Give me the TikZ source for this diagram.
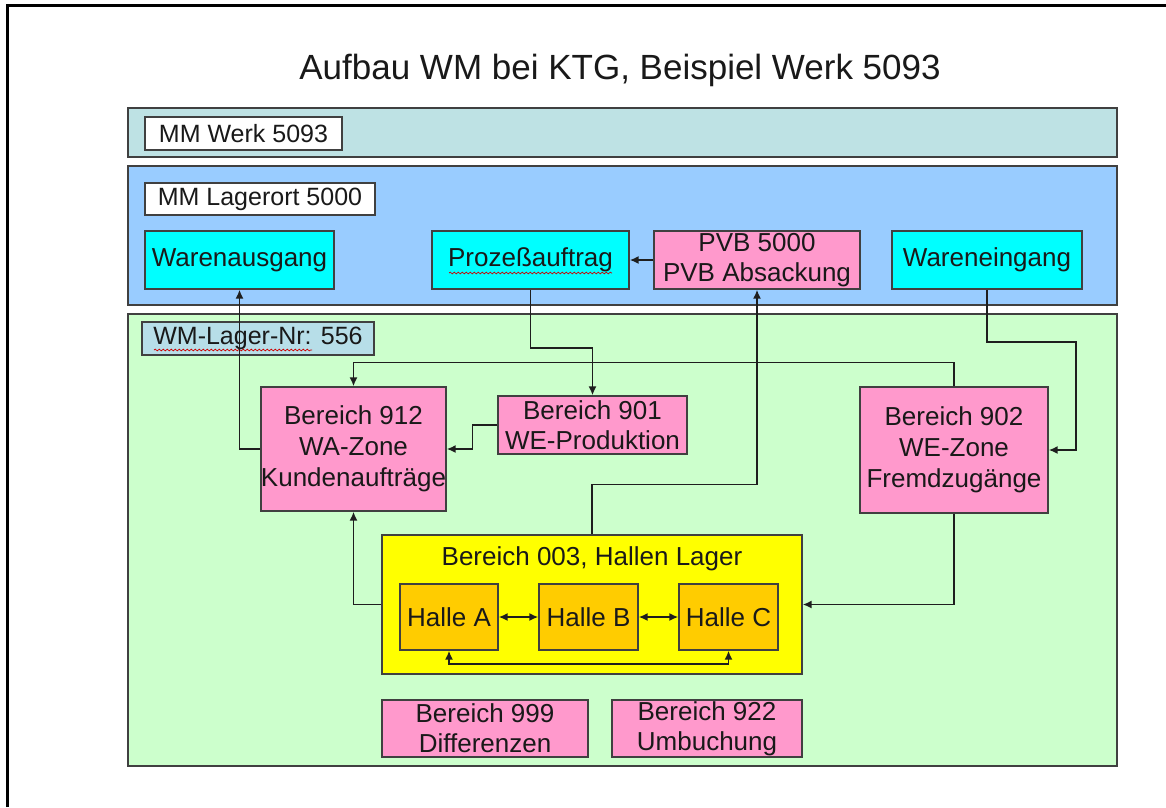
\documentclass[tikz,border=0pt]{standalone}
\usepackage{fontspec}
\setmainfont{Liberation Sans}
\usetikzlibrary{arrows.meta,decorations.pathmorphing}

\definecolor{werkfill}{RGB}{190,226,228}
\definecolor{lagerfill}{RGB}{153,204,255}
\definecolor{wmfill}{RGB}{204,255,204}
\definecolor{wmlabelfill}{RGB}{183,222,232}
\definecolor{cyanfill}{RGB}{0,255,255}
\definecolor{pinkfill}{RGB}{255,153,204}
\definecolor{yellowfill}{RGB}{255,255,0}
\definecolor{hallefill}{RGB}{255,204,0}
\definecolor{edgegray}{RGB}{64,64,64}
\definecolor{linegray}{RGB}{30,30,30}

\begin{document}
\begin{tikzpicture}[x=1pt,y=-1pt,
  every node/.style={inner sep=0pt, align=center, text=black!90,
    font=\fontsize{26}{31}\selectfont},
  band/.style={draw=edgegray, line width=1.6pt},
  label/.style={draw=edgegray, line width=1.3pt, font=\fontsize{25}{30}\selectfont},
  box/.style={draw=edgegray, line width=1.3pt},
  conn/.style={draw=linegray, line width=1.7pt, -{Latex[length=9pt,width=8pt]}},
  both/.style={draw=linegray, line width=1.7pt,
    {Latex[length=9pt,width=8pt]}-{Latex[length=9pt,width=8pt]}},
  squiggle/.style={draw=red!80!black, line width=0.7pt,
    decorate, decoration={snake, amplitude=0.9pt, segment length=4pt}}
]
\useasboundingbox (0,0) rectangle (1166,807);

% page frame (top and left edges)
\draw[line width=2.5pt] (7.5,807) -- (7.5,5.5) -- (1166,5.5);

% title
\node[font=\fontsize{35}{42}\selectfont] (title) at (620,70)
  {Aufbau WM bei KTG, Beispiel Werk 5093};

% three levels
\node[band, fill=werkfill, minimum width=989pt, minimum height=49pt] (werk) at (622.5,132.5) {};
\node[band, fill=lagerfill, minimum width=989pt, minimum height=139pt] (lager) at (622.5,235.5) {};
\node[band, fill=wmfill, minimum width=989pt, minimum height=452pt] (wm) at (622.5,540) {};

% level captions
\node[label, fill=white, minimum width=197pt, minimum height=33pt] (werklabel) at (243.5,133.5) {MM Werk 5093};
\node[label, fill=white, minimum width=230pt, minimum height=32pt] (lagerlabel) at (260,199) {MM Lagerort 5000};
\node[label, fill=wmlabelfill, minimum width=232pt, minimum height=33pt] (wmlabel) at (258,338.5) {WM-Lager-Nr: 556};

% storage location objects
\node[box, fill=cyanfill, minimum width=189pt, minimum height=58pt] (wa) at (239.5,260) {Warenausgang};
\node[box, fill=cyanfill, minimum width=197pt, minimum height=58pt] (pa) at (530.5,260) {Prozeßauftrag};
\node[box, fill=pinkfill, minimum width=206pt, minimum height=58pt] (pvb) at (757,260) {PVB 5000\\[-1pt]PVB Absackung};
\node[box, fill=cyanfill, minimum width=190pt, minimum height=58pt] (we) at (987,260) {Wareneingang};

% warehouse areas
\node[box, fill=pinkfill, minimum width=185pt, minimum height=124pt] (b912) at (353.5,449) {Bereich 912\\WA-Zone\\Kundenaufträge};
\node[box, fill=pinkfill, minimum width=189pt, minimum height=58pt] (b901) at (592.5,425) {Bereich 901\\[-1pt]WE-Produktion};
\node[box, fill=pinkfill, minimum width=188pt, minimum height=126pt] (b902) at (954,450) {Bereich 902\\WE-Zone\\Fremdzugänge};

\node[box, fill=yellowfill, minimum width=420pt, minimum height=139pt] (b003) at (592,604.5) {};
\node (b003title) at (592,559) {Bereich 003, Hallen Lager};
\node[box, fill=hallefill, minimum width=98pt, minimum height=66pt] (hA) at (449,617) {Halle A};
\node[box, fill=hallefill, minimum width=99pt, minimum height=66pt] (hB) at (588.5,617) {Halle B};
\node[box, fill=hallefill, minimum width=99pt, minimum height=66pt] (hC) at (728.5,617) {Halle C};

\node[box, fill=pinkfill, minimum width=206pt, minimum height=57pt] (b999) at (485,728.5) {Bereich 999\\[-1pt]Differenzen};
\node[box, fill=pinkfill, minimum width=190pt, minimum height=57pt] (b922) at (707,728.5) {Bereich 922\\[-1pt]Umbuchung};

% spell-check marks
\draw[squiggle] (449,273) -- (612,273);
\draw[squiggle] (154,350) -- (312,350);

% flows
\draw[conn] (b912.west) -| (wa.south);
\draw[conn] (pa.south) -- ++(0,58) -| (b901.north);
\draw[conn] (b901.west) -- ++(-25,0) |- (b912.east);
\draw[conn] (b902.north) -- ++(0,-24) -| (b912.north);
\draw[conn] (we.south) -- ++(0,52) -- ++(89,0) |- (b902.east);
\draw[conn] (b902.south) |- (b003.east);
\draw[conn] (b003.north) -- ++(0,-50) -| (pvb.south);
\draw[conn] (pvb.west) -- (pa.east);
\draw[conn] (b003.west) -| (b912.south);

% transfers between halls
\draw[both] (hA) -- (hB);
\draw[both] (hB) -- (hC);
\draw[both] (hA.south) -- ++(0,13) -| (hC.south);
\end{tikzpicture}
\end{document}
